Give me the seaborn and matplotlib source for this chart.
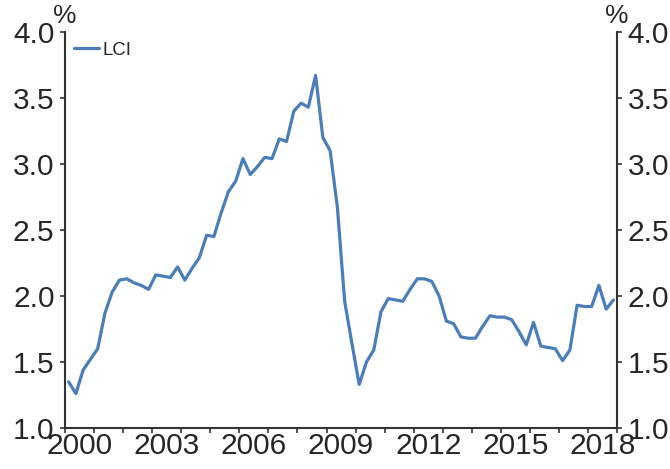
import numpy as np
import pandas as pd
import matplotlib
matplotlib.use('Agg')
import matplotlib.pyplot as plt
import seaborn as sns

# 季度数据 2000Q1 - 2018Q4
start_year = 2000
end_year = 2019
quarters = [1, 2, 3, 4]
lci = [
    1.35, 1.26, 1.44, 1.52, 1.60, 1.87, 2.03, 2.12,
    2.13, 2.10, 2.08, 2.05, 2.16, 2.15, 2.14, 2.22,
    2.12, 2.21, 2.29, 2.46, 2.45, 2.63, 2.79, 2.87,
    3.04, 2.92, 2.98, 3.05, 3.04, 3.19, 3.17, 3.40,
    3.46, 3.43, 3.67, 3.20, 3.10, 2.67, 1.96, 1.64,
    1.33, 1.50, 1.59, 1.88, 1.98, 1.97, 1.96, 2.05,
    2.13, 2.13, 2.11, 2.00, 1.81, 1.79, 1.69, 1.68,
    1.68, 1.77, 1.85, 1.84, 1.84, 1.82, 1.73, 1.63,
    1.80, 1.62, 1.61, 1.60, 1.51, 1.59, 1.93, 1.92,
    1.92, 2.08, 1.90, 1.97,
]
year_labels = [2000, 2003, 2006, 2009, 2012, 2015, 2018]
y_ticks = [1.0, 1.5, 2.0, 2.5, 3.0, 3.5, 4.0]

years = np.repeat(np.arange(start_year, end_year), len(quarters))
qs = np.tile(quarters, end_year - start_year)
df = pd.DataFrame({'t': years + (qs - 0.5) / 4, 'LCI': lci})

sns.set_theme(style='white')
plt.rcParams['font.family'] = ['Liberation Sans', 'DejaVu Sans']

text_color = '#262626'
spine_color = '#333333'

fig = plt.figure(figsize=(6.7, 4.69), dpi=100)
ax = fig.add_axes([0.097, 0.0874, 0.824, 0.8446])

sns.lineplot(data=df, x='t', y='LCI', ax=ax, color='#4a7ebb',
             linewidth=2.3, label='LCI')

ax.set_xlim(start_year, end_year)
ax.set_ylim(1.0, 4.0)
ax.set_xlabel('')
ax.set_ylabel('')

# 年份刻度（主刻度在年界，标签在年中）
ax.set_xticks(np.arange(start_year, end_year + 1))
ax.set_xticklabels([])
ax.set_xticks([y + 0.5 for y in year_labels], minor=True)
ax.set_xticklabels([str(y) for y in year_labels], minor=True)
ax.tick_params(axis='x', which='major', direction='out', length=3.5,
               width=1.2, color=spine_color, bottom=True)
ax.tick_params(axis='x', which='minor', length=0, pad=3,
               labelsize=21.5, labelcolor=text_color, bottom=True)

ax.set_yticks(y_ticks)
ax.set_yticklabels([f'{v:.1f}' for v in y_ticks])
ax.tick_params(axis='y', which='major', direction='out', length=3.5,
               width=1.2, color=spine_color, left=True, right=True,
               labelleft=True, labelright=True, labelsize=21.5,
               labelcolor=text_color, pad=4)

for side in ['left', 'right', 'bottom']:
    ax.spines[side].set_visible(True)
    ax.spines[side].set_color(spine_color)
    ax.spines[side].set_linewidth(1.5)
ax.spines['top'].set_visible(False)

# 百分号
ax.text(0.0, 1.01, '%', transform=ax.transAxes, ha='center', va='bottom',
        fontsize=19, color=text_color)
ax.text(1.0, 1.01, '%', transform=ax.transAxes, ha='center', va='bottom',
        fontsize=19, color=text_color)

ax.legend(loc='upper left', bbox_to_anchor=(0.016, 0.975), frameon=False,
          fontsize=13.4, handlelength=1.35, handletextpad=0.2,
          borderpad=0, borderaxespad=0, labelcolor=text_color)

plt.savefig('out.png', dpi=100)
plt.close()
